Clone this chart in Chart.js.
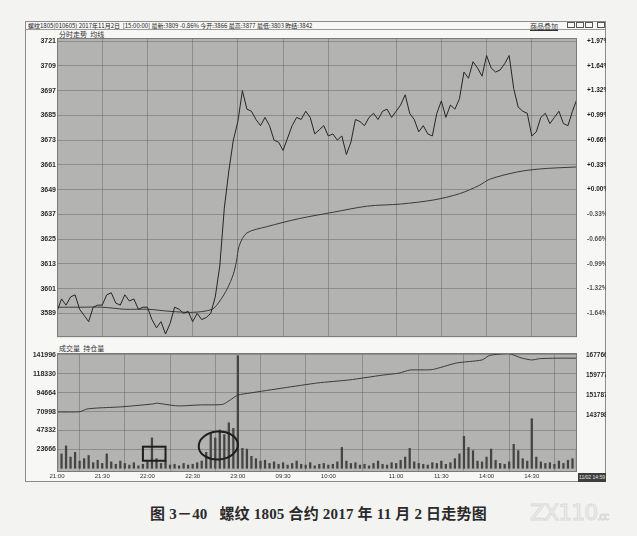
<!DOCTYPE html>
<html>
<head>
<meta charset="utf-8">
<script src="https://cdn.jsdelivr.net/npm/chart.js@4.4.1/dist/chart.umd.min.js"></script>
<style>
body{margin:0;width:637px;height:536px;overflow:hidden;position:relative;background:#f3f3f1;font-family:"Liberation Sans","Noto Sans CJK SC",sans-serif}
.abs{position:absolute;white-space:nowrap}
#frame{left:25px;top:21px;width:581px;height:461px;border:1px solid #8c8c8c;box-sizing:border-box;background:#f7f7f6}
#head{left:26px;top:21px;width:579px;height:9px;border-bottom:1px solid #9a9a9a;font-size:6px;line-height:9px;color:#222;padding-left:2px;box-sizing:border-box;font-family:"Noto Sans CJK SC",sans-serif}
.lbl{font-size:7px;color:#333;font-family:"Noto Sans CJK SC",sans-serif;line-height:8px}
.btn{top:22px;width:8px;height:6px;border:1px solid #555;box-sizing:border-box}
#cap{left:0;width:637px;top:502px;text-align:center;font-family:"Liberation Serif","Noto Sans CJK SC",serif;font-weight:bold;font-size:15px;color:#2a2a2a;letter-spacing:0.2px}
#wm{left:530px;top:500px;font-size:22px;font-family:"DejaVu Sans",sans-serif;color:transparent;-webkit-text-stroke:1px #dadada;letter-spacing:-1px}
#endbox{left:578px;top:473px;width:28px;height:9px;background:#3d3d3d;color:#e8e8e8;font-size:5px;line-height:9px;text-align:center;overflow:hidden}
canvas{position:absolute}
</style>
</head>
<body>
<div id="frame" class="abs"></div>
<div id="head" class="abs">螺纹1805(010605) 2017年11月2日 &nbsp;[15:00:00] 最新:3809 -0.86% 今开:3866 最高:3877 最低:3803 昨结:3842</div>
<div class="abs lbl" style="left:530px;top:22px;text-decoration:underline">商品叠加</div>
<div class="abs btn" style="left:567px"></div>
<div class="abs btn" style="left:576px"></div>
<div class="abs btn" style="left:585px"></div>
<div class="abs btn" style="left:597px"></div>
<div class="abs lbl" style="left:59px;top:30px">分时走势 &nbsp;均线</div>
<div class="abs lbl" style="left:59px;top:344px">成交量 &nbsp;持仓量</div>
<canvas id="priceChart" width="581" height="313" style="left:25px;top:30px"></canvas>
<canvas id="volChart" width="581" height="139" style="left:25px;top:345px"></canvas>
<div id="endbox" class="abs">11/02 14:59</div>
<div id="cap" class="abs">图 3－40 &nbsp;&nbsp;螺纹 1805 合约 2017 年 11 月 2 日走势图</div>
<div id="wm" class="abs">ZX110<span style="font-size:10px">.cc</span></div>
<script>
// 分时 data, minute index from 21:00 (night 120 min + day 225 min)
var refPrice = 3649;
var sampleStep = 3;
var priceValues = [
  3590,3596,3593,3597,3598,3591,3588,3585,3592,3593,
  3593,3598,3599,3594,3593,3598,3595,3596,3591,3592,
  3592,3586,3582,3585,3579,3584,3592,3591,3589,3590,
  3585,3589,3586,3587,3589,3597,3612,3640,3658,3673,
  3682,3697,3688,3687,3683,3680,3684,3680,3673,3672,
  3668,3674,3680,3684,3683,3687,3684,3676,3678,3680,
  3675,3676,3673,3675,3666,3672,3683,3682,3680,3684,
  3686,3683,3687,3688,3684,3687,3690,3695,3686,3683,
  3677,3680,3676,3675,3686,3692,3684,3690,3688,3693,
  3706,3703,3711,3708,3704,3714,3708,3706,3707,3710,
  3714,3698,3689,3687,3686,3675,3677,3684,3686,3681,
  3684,3687,3681,3680,3687,3693
];
var volumeValues = [
  44000,18000,28000,14000,20000,9000,12000,16000,7000,10000,
  6000,18000,8000,5000,9000,6000,4000,7000,3000,5000,
  8000,38000,12000,6000,9000,4000,5000,3000,6000,4000,
  5000,7000,9000,20000,45000,38000,48000,42000,57000,50000,
  141000,25000,24000,15000,12000,9000,10000,6000,8000,5000,
  7000,4000,6000,9000,5000,4000,7000,3000,5000,6000,
  4000,5000,8000,26000,9000,6000,7000,4000,5000,3000,
  6000,9000,5000,4000,7000,6000,10000,14000,25000,8000,
  6000,5000,4000,7000,6000,9000,5000,7000,12000,18000,
  40000,26000,22000,9000,8000,14000,24000,10000,6000,5000,
  8000,30000,22000,12000,9000,62000,14000,8000,6000,7000,
  5000,9000,6000,10000,12000,22000
];
var avgMinutes = [0,15,30,45,60,75,90,103,108,113,117,119,121,126,139,161,183,206,228,250,267,280,287,305,320,345];
var avgValues = [3592,3592,3592,3591,3591,3590,3589.5,3591,3595,3601,3608,3614,3622,3628,3631,3635,3638,3641,3642,3644,3647,3651,3654,3657.5,3659,3660];
var oiMinutes = [0,15,20,28,42,50,64,66,80,95,110,115,120,128,150,173,194,216,227,234,249,265,282,287,300,308,315,320,331,345];
var oiValues = [1452000,1453000,1464000,1468000,1472000,1476000,1484000,1487000,1476000,1480000,1482000,1500000,1519000,1527000,1547000,1567000,1579000,1598000,1606000,1618000,1620000,1646000,1658000,1676000,1683000,1666000,1658000,1663000,1665000,1665000];

var timeTicks = [0,30,60,90,120,150,180,225,255,285,315];
var timeLabels = ['21:00','21:30','22:00','22:30','23:00','09:30','10:00','11:00','11:30','14:00','14:30'];
var priceTicks = [3589,3601,3613,3625,3637,3649,3661,3673,3685,3697,3709,3721];
var volTicks = [23666,47332,70998,94664,118330,141996];
var oiTicks = [1437980,1517876,1597776,1677664];

var gridColor = 'rgba(95,95,95,0.45)';
var tickFont = {family:'Liberation Sans', size:7, weight:'bold'};
var plain = function (v) { return String(v); };

function pts(xs, ys) { return ys.map(function (v, i) { return {x: xs[i], y: v}; }); }
var sampleMinutes = priceValues.map(function (v, i) { return i * sampleStep; });

var panelBg = {
  id: 'panelBg',
  beforeDraw: function (chart) {
    var a = chart.chartArea, c = chart.ctx;
    c.save();
    c.fillStyle = '#b3b3b2';
    c.fillRect(a.left, a.top, a.right - a.left, a.bottom - a.top);
    c.restore();
  },
  afterDraw: function (chart) {
    var a = chart.chartArea, c = chart.ctx;
    c.save();
    c.strokeStyle = '#7a7a7a';
    c.lineWidth = 1;
    c.strokeRect(a.left + 0.5, a.top + 0.5, a.right - a.left - 1, a.bottom - a.top - 1);
    c.restore();
  }
};

function fixTicks(list) {
  return function (s) { s.ticks = list.map(function (v) { return {value: v}; }); };
}

new Chart(document.getElementById('priceChart'), {
  type: 'line',
  data: {
    datasets: [{
      label: '价格',
      data: pts(sampleMinutes, priceValues),
      borderColor: '#262626',
      borderWidth: 1,
      pointRadius: 0,
      tension: 0
    }, {
      label: '均线',
      data: pts(avgMinutes, avgValues),
      borderColor: '#3a3a3a',
      borderWidth: 1,
      pointRadius: 0,
      tension: 0.3
    }]
  },
  options: {
    responsive: false,
    animation: false,
    devicePixelRatio: 1,
    layout: {padding: {top: 8, bottom: 1, left: 0, right: 0}},
    plugins: {legend: {display: false}, tooltip: {enabled: false}},
    scales: {
      x: {
        type: 'linear', min: 0, max: 345,
        afterBuildTicks: fixTicks(timeTicks),
        ticks: {display: false},
        grid: {color: gridColor, drawTicks: false},
        border: {display: false},
        afterFit: function (s) { s.height = 0; }
      },
      y: {
        position: 'left', min: 3577.5, max: 3722.5,
        afterBuildTicks: fixTicks(priceTicks),
        ticks: {font: tickFont, color: '#2b2b2b', padding: 1, callback: plain},
        grid: {color: gridColor, drawTicks: false},
        border: {display: false},
        afterFit: function (s) { s.width = 32; }
      },
      y1: {
        position: 'right', min: 3577.5, max: 3722.5,
        afterBuildTicks: fixTicks(priceTicks),
        ticks: {
          font: {family: 'Liberation Sans', size: 6.5, weight: 'bold'}, padding: 2,
          color: function (c) { return c.tick.value >= refPrice ? '#222' : '#555'; },
          callback: function (v) {
            var p = (v - refPrice) / refPrice * 100;
            return (p >= 0 ? '+' : '') + p.toFixed(2) + '%';
          }
        },
        grid: {display: false},
        border: {display: false},
        afterFit: function (s) { s.width = 29; }
      }
    }
  },
  plugins: [panelBg]
});

var marks = {
  id: 'marks',
  afterDatasetsDraw: function (chart) {
    var x = chart.scales.x, y = chart.scales.y, c = chart.ctx;
    c.save();
    c.strokeStyle = '#1e1e1e';
    c.lineWidth = 2;
    var x0 = x.getPixelForValue(57), x1 = x.getPixelForValue(72);
    var y0 = y.getPixelForValue(27000), y1 = y.getPixelForValue(9400);
    c.strokeRect(x0, y0, x1 - x0, y1 - y0);
    var ex0 = x.getPixelForValue(94), ex1 = x.getPixelForValue(120);
    var ey0 = y.getPixelForValue(46000), ey1 = y.getPixelForValue(11000);
    c.beginPath();
    c.ellipse((ex0 + ex1) / 2, (ey0 + ey1) / 2, (ex1 - ex0) / 2, (ey1 - ey0) / 2, -0.08, 0, Math.PI * 2);
    c.stroke();
    c.restore();
  }
};

new Chart(document.getElementById('volChart'), {
  type: 'bar',
  data: {
    datasets: [{
      type: 'line',
      label: '持仓量',
      data: pts(oiMinutes, oiValues),
      yAxisID: 'y1',
      borderColor: '#3a3a3a',
      borderWidth: 1,
      pointRadius: 0,
      tension: 0.2
    }, {
      type: 'bar',
      label: '成交量',
      data: pts(sampleMinutes, volumeValues),
      yAxisID: 'y',
      backgroundColor: '#444',
      barThickness: 1.6
    }]
  },
  options: {
    responsive: false,
    animation: false,
    devicePixelRatio: 1,
    layout: {padding: {top: 8, bottom: 2, left: 0, right: 0}},
    plugins: {legend: {display: false}, tooltip: {enabled: false}},
    scales: {
      x: {
        type: 'linear', min: 0, max: 345, offset: false,
        afterBuildTicks: fixTicks(timeTicks),
        ticks: {
          font: {family: 'Liberation Sans', size: 6}, color: '#333', padding: 1,
          maxRotation: 0, autoSkip: false,
          callback: function (v) { return timeLabels[timeTicks.indexOf(v)]; }
        },
        grid: {color: gridColor, drawTicks: false},
        border: {display: false},
        afterFit: function (s) { s.height = 10; }
      },
      y: {
        position: 'left', min: -4694, max: 144343,
        afterBuildTicks: fixTicks(volTicks),
        ticks: {font: tickFont, color: '#2b2b2b', padding: 1, callback: plain},
        grid: {color: gridColor, drawTicks: false},
        border: {display: false},
        afterFit: function (s) { s.width = 32; }
      },
      y1: {
        position: 'right', min: 1214227, max: 1685586,
        afterBuildTicks: fixTicks(oiTicks),
        ticks: {font: {family: 'Liberation Sans', size: 6.5, weight: 'bold'}, color: '#2b2b2b', padding: 1, callback: plain},
        grid: {display: false},
        border: {display: false},
        afterFit: function (s) { s.width = 29; }
      }
    }
  },
  plugins: [panelBg, marks]
});
</script>
</body>
</html>
